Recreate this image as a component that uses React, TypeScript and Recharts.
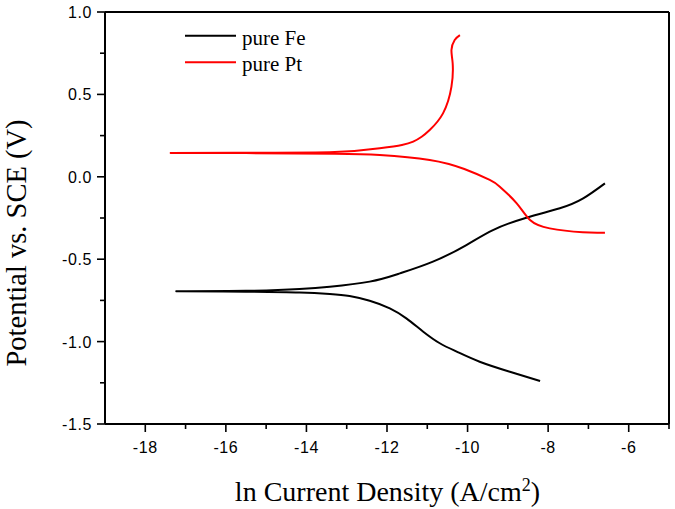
import React from 'react';
import { LineChart, Line, XAxis, YAxis, ReferenceLine, Legend } from 'recharts';

const xMajorTicks = [-18, -16, -14, -12, -10, -8, -6];
const xMinorTicks = [-17, -15, -13, -11, -9, -7, -5];
const yMajorTicks = [-1.5, -1.0, -0.5, 0, 0.5, 1.0];
const yMinorTicks = [-1.25, -0.75, -0.25, 0.25, 0.75];

// pure Fe: ln current density vs potential, ordered along the sweep (cathodic -> anodic)
const feLnI = [-8.2, -8.95, -9.7, -10.27, -10.69, -11.1, -11.52, -11.93, -12.43, -12.93, -13.42, -14.17, -15.5, -17.23,
  -15.5, -14.17, -13.42, -12.43, -11.68, -10.86, -10.03, -9.37, -8.54, -7.71, -7.13, -6.59];
const feE = [-1.239, -1.183, -1.122, -1.061, -1.01, -0.94, -0.859, -0.798, -0.752, -0.723, -0.711, -0.702, -0.697, -0.694,
  -0.692, -0.681, -0.667, -0.636, -0.586, -0.515, -0.414, -0.323, -0.248, -0.191, -0.131, -0.04];

// pure Pt
const ptLnI = [-6.59, -7.14, -7.96, -8.45, -8.78, -9.2, -9.45, -10.08, -10.94, -12.18, -13.3, -15.5, -17.37,
  -15.5, -13.3, -12.18, -11.63, -11.35, -11.14, -10.94, -10.61, -10.4, -10.37, -10.4, -10.32, -10.19];
const ptE = [-0.339, -0.337, -0.313, -0.262, -0.161, -0.06, -0.019, 0.047, 0.102, 0.132, 0.140, 0.144, 0.145,
  0.146, 0.150, 0.173, 0.193, 0.213, 0.243, 0.284, 0.385, 0.547, 0.689, 0.769, 0.83, 0.86];

const feData = feLnI.map((x, i) => ({ x, y: feE[i] }));
const ptData = ptLnI.map((x, i) => ({ x, y: ptE[i] }));

const tickFont = { fontFamily: '"Liberation Sans", Arial, sans-serif', fontSize: 16, letterSpacing: 0.6 };

const XTick = (props: any) => {
  const { x, y, payload } = props;
  const major = xMajorTicks.includes(payload.value);
  return (
    <g>
      <line x1={x} x2={x} y1={y} y2={y + (major ? 8 : 5)} stroke="#000" strokeWidth={1.6} />
      {major && (
        <text x={x} y={y + 28.5} textAnchor="middle" fill="#000" style={tickFont}>
          {String(payload.value)}
        </text>
      )}
    </g>
  );
};

const YTick = (props: any) => {
  const { x, y, payload } = props;
  const major = yMajorTicks.some((t) => Math.abs(t - payload.value) < 1e-9);
  return (
    <g>
      <line x1={x} x2={x - (major ? 8 : 5)} y1={y} y2={y} stroke="#000" strokeWidth={1.6} />
      {major && (
        <text x={x - 13} y={y + 6} textAnchor="end" fill="#000" style={tickFont}>
          {Number(payload.value).toFixed(1)}
        </text>
      )}
    </g>
  );
};

const serif = '"Liberation Serif", "Times New Roman", serif';

const XTitle = () => (
  <text x={387.5} y={501} textAnchor="middle" fill="#000" style={{ fontFamily: serif, fontSize: 28 }}>
    ln Current Density (A/cm
    <tspan dy={-10} fontSize={18}>2</tspan>
    <tspan dy={10}>)</tspan>
  </text>
);

const YTitle = () => (
  <text x={26} y={243} transform="rotate(-90, 26, 243)" textAnchor="middle" fill="#000"
    style={{ fontFamily: serif, fontSize: 28.5 }}>
    Potential vs. SCE (V)
  </text>
);

const LegendContent = (props: any) => {
  const items = props.payload || [];
  return (
    <svg width={150} height={62} style={{ display: 'block' }}>
      {items.map((it: any, i: number) => (
        <g key={i}>
          <line x1={0} x2={51} y1={15.7 + i * 26.6} y2={15.7 + i * 26.6} stroke={it.color} strokeWidth={2} />
          <text x={57} y={24.5 + i * 26.6} fill="#000" style={{ fontFamily: serif, fontSize: 21 }}>{it.value}</text>
        </g>
      ))}
    </svg>
  );
};

export default function App() {
  return (
    <div style={{ position: 'absolute', left: 0, top: 0, background: '#fff' }}>
      <LineChart width={675} height={509} margin={{ top: 12, right: 6, left: 0, bottom: 0 }}>
        <XAxis
          dataKey="x"
          type="number"
          domain={[-19, -5]}
          ticks={[...xMajorTicks, ...xMinorTicks].sort((a, b) => a - b)}
          height={85}
          tickSize={0}
          tickMargin={0}
          tickLine={false}
          axisLine={{ stroke: '#000', strokeWidth: 2 }}
          tick={<XTick />}
          interval={0}
          allowDataOverflow
          label={{ content: <XTitle /> }}
        />
        <YAxis
          dataKey="y"
          type="number"
          domain={[-1.5, 1.0]}
          ticks={[...yMajorTicks, ...yMinorTicks].sort((a, b) => a - b)}
          width={105}
          tickSize={0}
          tickMargin={0}
          tickLine={false}
          axisLine={{ stroke: '#000', strokeWidth: 2 }}
          tick={<YTick />}
          interval={0}
          allowDataOverflow
          label={{ content: <YTitle /> }}
        />
        <ReferenceLine y={1.0} stroke="#000" strokeWidth={2} />
        <ReferenceLine x={-5} stroke="#000" strokeWidth={2} />
        <Legend
          layout="vertical"
          align="center"
          verticalAlign="middle"
          wrapperStyle={{ top: 20, left: 185, width: 150, height: 62 }}
          content={<LegendContent />}
        />
        <Line data={feData} dataKey="y" name="pure Fe" type="natural" stroke="#000000" strokeWidth={2}
          dot={false} activeDot={false} isAnimationActive={false} />
        <Line data={ptData} dataKey="y" name="pure Pt" type="natural" stroke="#ff0000" strokeWidth={2}
          dot={false} activeDot={false} isAnimationActive={false} />
      </LineChart>
    </div>
  );
}
